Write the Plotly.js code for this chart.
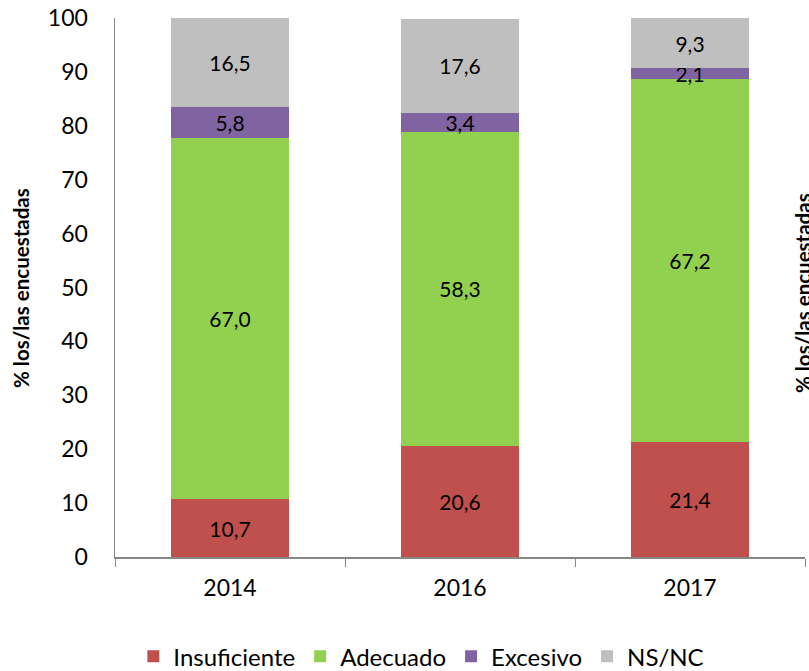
<!DOCTYPE html>
<html>
<head>
<meta charset="utf-8">
<script src="https://cdn.plot.ly/plotly-3.0.1.min.js"></script>
<style>html,body{margin:0;padding:0;background:#fff;}#chart{width:809px;height:671px;}</style>
</head>
<body>
<div id="chart"></div>
<script>
const years = ['2014', '2016', '2017'];
const seriesNames = ['Insuficiente', 'Adecuado', 'Excesivo', 'NS/NC'];
const insuficiente = [10.7, 20.6, 21.4];
const adecuado = [67.0, 58.3, 67.2];
const excesivo = [5.8, 3.4, 2.1];
const nsnc = [16.5, 17.6, 9.3];
const yTitle = '% los/las encuestadas';

const colors = ['#C0504D', '#92D050', '#8064A2', '#BFBFBF'];
const values = [insuficiente, adecuado, excesivo, nsnc];
const FONT = 'Lato, "Open Sans", sans-serif';

const fmt = v => v.toFixed(1).replace('.', ',');

const traces = values.map((vals, i) => ({
  type: 'bar',
  name: seriesNames[i],
  x: years,
  y: vals,
  text: vals.map(fmt),
  textposition: 'inside',
  insidetextanchor: 'middle',
  constraintext: 'none',
  textangle: 0,
  textfont: {family: FONT, size: 21, color: '#000'},
  marker: {color: colors[i], line: {width: 0}},
  width: 0.51,
  hoverinfo: 'none'
}));

const layout = {
  width: 809,
  height: 671,
  barmode: 'stack',
  paper_bgcolor: '#fff',
  plot_bgcolor: '#fff',
  margin: {l: 115, r: 4, t: 18, b: 114, autoexpand: false},
  font: {family: FONT, size: 20, color: '#000'},
  xaxis: {
    type: 'category',
    range: [-0.5, 2.5],
    showline: true,
    linecolor: '#868686',
    linewidth: 1.5,
    ticks: 'outside',
    tickson: 'boundaries',
    ticklen: 8,
    tickcolor: '#868686',
    ticklabelstandoff: 10,
    tickfont: {family: FONT, size: 23, color: '#000'},
    showgrid: false,
    zeroline: false
  },
  yaxis: {
    range: [0, 100],
    dtick: 10,
    tick0: 0,
    showline: true,
    linecolor: '#868686',
    linewidth: 1.5,
    ticks: '',
    ticklabelstandoff: 21,
    showgrid: false,
    zeroline: false,
    tickfont: {family: FONT, size: 23, color: '#000'}
  },
  showlegend: true,
  legend: {
    orientation: 'h',
    x: 0.444,
    xanchor: 'center',
    y: -0.185,
    yanchor: 'middle',
    font: {family: FONT, size: 24, color: '#000'},
    traceorder: 'normal'
  },
  annotations: [
    {
      xref: 'paper', yref: 'paper', x: -0.137, y: 0.5,
      xanchor: 'center', yanchor: 'middle',
      text: '<b>' + yTitle + '</b>', textangle: -90, showarrow: false,
      font: {family: FONT, size: 20.5, color: '#000'}
    },
    {
      xref: 'paper', yref: 'paper', x: 0.977, y: 0.49,
      xanchor: 'left', yanchor: 'middle',
      text: '<b>' + yTitle + '</b>', textangle: -90, showarrow: false,
      font: {family: FONT, size: 20.5, color: '#000'}
    }
  ]
};

Plotly.newPlot('chart', traces, layout, {displayModeBar: false, staticPlot: true});
</script>
</body>
</html>
